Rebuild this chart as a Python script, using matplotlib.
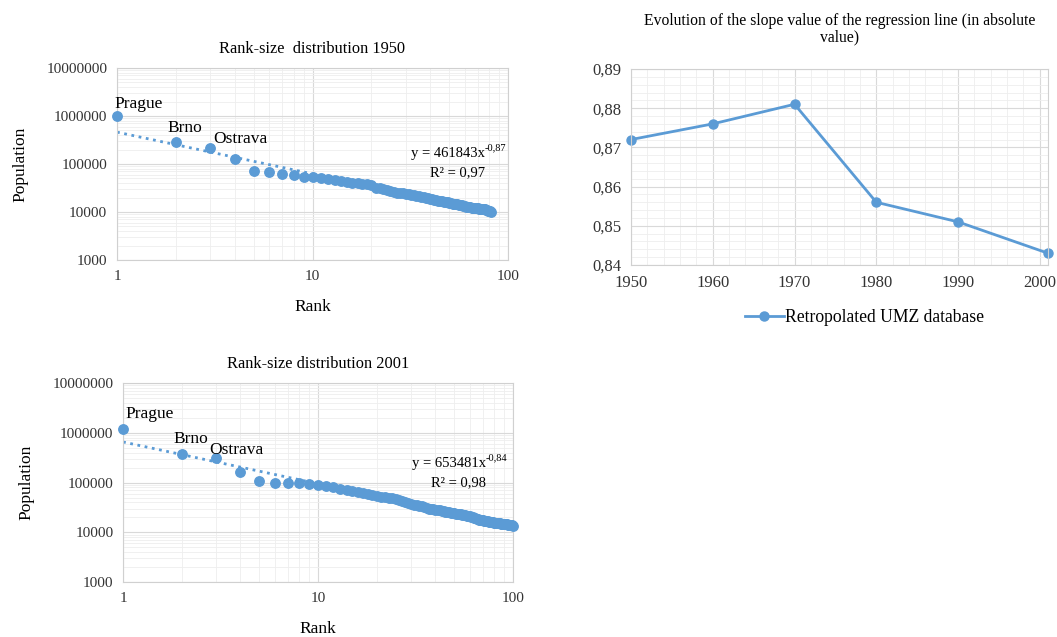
import numpy as np
import matplotlib
matplotlib.use('Agg')
import matplotlib.pyplot as plt
from matplotlib.ticker import FixedLocator, MultipleLocator, FuncFormatter, NullFormatter

plt.rcParams['font.family'] = ['Liberation Serif', 'DejaVu Serif']

# population by rank, 1950
pop_1950 = [1000000, 290000, 215000, 125000, 72000, 67000, 62000, 59000, 54000, 54000,
            51000, 48000, 47000, 45000, 43000, 41000, 40000, 39000, 38000, 36000,
            32000, 31000, 30000, 29000, 28000, 26500, 25500, 25000, 24500, 24000,
            23500, 23000, 22500, 22000, 21500, 21000, 20500, 20000, 19500, 19000,
            18500, 18000, 17600, 17300, 17000, 16700, 16400, 16100, 15800, 15500,
            15200, 15000, 14800, 14600, 14400, 14200, 14000, 13700, 13400, 13100,
            12900, 12700, 12600, 12500, 12400, 12300, 12200, 12100, 12000, 11900,
            11800, 11700, 11600, 11500, 11400, 11300, 11100, 10900, 10700, 10500,
            10300, 10100]

# population by rank, 2001
pop_2001 = [1200000, 380000, 315000, 160000, 105000, 100000, 99000, 98000, 93000, 88000,
            86000, 83000, 74000, 71000, 68000, 66000, 63000, 60000, 57000, 54000,
            52000, 51000, 50000, 48000, 46000, 44000, 42000, 40000, 38500, 37000,
            36000, 35000, 34000, 33000, 32000, 31000, 30000, 29500, 29000, 28500,
            28000, 27500, 27000, 26500, 26000, 25500, 25000, 24700, 24400, 24100,
            23800, 23500, 23200, 22900, 22600, 22300, 22000, 21600, 21200, 20800,
            20400, 20000, 19500, 19000, 18600, 18300, 18000, 17800, 17600, 17400,
            17200, 17000, 16800, 16600, 16400, 16200, 16000, 15900, 15800, 15700,
            15600, 15500, 15400, 15300, 15200, 15100, 15000, 14900, 14800, 14700,
            14600, 14500, 14400, 14300, 14200, 14100, 14000, 13900, 13800, 13600]

cities = ['Prague', 'Brno', 'Ostrava']

# power-law fits (coefficient, exponent, R2)
fit_1950 = (461843, -0.87, 0.97)
fit_2001 = (653481, -0.84, 0.98)

years = [1950, 1960, 1970, 1980, 1990, 2001]
slope = [0.872, 0.876, 0.881, 0.856, 0.851, 0.843]

blue = '#5b9bd5'
major_grid = '#d9d9d9'
minor_grid = '#eeeeee'


def comma(v, pos):
    return ('%.2f' % v).replace('.', ',')


def style_axes(ax, fs):
    for s in ax.spines.values():
        s.set_color('#d0d0d0')
        s.set_linewidth(0.8)
    ax.grid(True, which='major', color=major_grid, lw=0.8)
    ax.grid(True, which='minor', color=minor_grid, lw=0.6)
    ax.set_axisbelow(True)
    ax.tick_params(which='both', length=0, labelsize=fs, colors='#333333', pad=7)


def rank_plot(ax, pop, fit, title, offsets, eq_pos):
    rank = np.arange(1, len(pop) + 1)
    a, b, r2 = fit
    xx = np.linspace(1, rank[-1], 300)
    ax.plot(xx, a * xx ** b, ls=':', color=blue, lw=2, zorder=2)
    ax.plot(rank, pop, 'o', color=blue, ms=6.8, zorder=3, clip_on=False)
    ax.set_xscale('log')
    ax.set_yscale('log')
    ax.set_xlim(1, 100)
    ax.set_ylim(1000, 1e7)
    ax.xaxis.set_major_locator(FixedLocator([1, 10, 100]))
    ax.yaxis.set_major_locator(FixedLocator([1e3, 1e4, 1e5, 1e6, 1e7]))
    ax.xaxis.set_major_formatter(FuncFormatter(lambda v, p: '%d' % round(v)))
    ax.yaxis.set_major_formatter(FuncFormatter(lambda v, p: '%d' % round(v)))
    ax.xaxis.set_minor_formatter(NullFormatter())
    ax.yaxis.set_minor_formatter(NullFormatter())
    style_axes(ax, 11)
    ax.set_title(title, fontsize=11.8, pad=11)
    ax.set_ylabel('Population', fontsize=12.5, labelpad=13)
    ax.set_xlabel('Rank', fontsize=12.5, labelpad=12)
    for i, name in enumerate(cities):
        ax.annotate(name, (i + 1, pop[i]), xytext=offsets[i], textcoords='offset points',
                    fontsize=12.5, va='bottom', ha='left', zorder=4)
    ex, ey = eq_pos
    eq = ax.text(ex, ey, 'y = %dx' % a, transform=ax.transAxes,
                 ha='right', va='center', fontsize=10.5)
    ax.annotate(('%.2f' % b).replace('.', ','), xy=(1, 0.55), xycoords=eq,
                ha='left', va='bottom', fontsize=7.5)
    ax.text(ex - 0.07, ey - 0.1, 'R² = %s' % ('%.2f' % r2).replace('.', ','),
            transform=ax.transAxes, ha='center', va='center', fontsize=10.5)


fig = plt.figure(figsize=(10.57, 6.37), dpi=100)

ax1 = fig.add_axes([0.1107, 0.5918, 0.370, 0.3014])
rank_plot(ax1, pop_1950, fit_1950, 'Rank-size  distribution 1950',
          [(-2, 3), (-6, 4), (2, 1)], (0.94, 0.557))

ax2 = fig.add_axes([0.1164, 0.0863, 0.369, 0.3124])
rank_plot(ax2, pop_2001, fit_2001, 'Rank-size distribution 2001',
          [(2, 5), (-6, 5), (-5, 0)], (0.93, 0.598))

ax3 = fig.add_axes([0.597, 0.584, 0.3945, 0.3077])
ax3.plot(years, slope, '-o', color=blue, lw=2, ms=6.5, label='Retropolated UMZ database',
         clip_on=False)
ax3.set_xlim(1950, 2001)
ax3.set_ylim(0.84, 0.89)
ax3.xaxis.set_major_locator(MultipleLocator(10))
ax3.xaxis.set_minor_locator(MultipleLocator(2))
ax3.yaxis.set_major_locator(MultipleLocator(0.01))
ax3.yaxis.set_minor_locator(MultipleLocator(0.002))
ax3.yaxis.set_major_formatter(FuncFormatter(comma))
style_axes(ax3, 12)
ax3.set_title('Evolution of the slope value of the regression line (in absolute\nvalue)',
              fontsize=11.3, pad=20, linespacing=1.05)
ax3.legend(loc='upper center', bbox_to_anchor=(0.56, -0.145), frameon=False, fontsize=12.7,
           handlelength=2.2, handletextpad=0.1)

fig.savefig('out.png', dpi=100)
